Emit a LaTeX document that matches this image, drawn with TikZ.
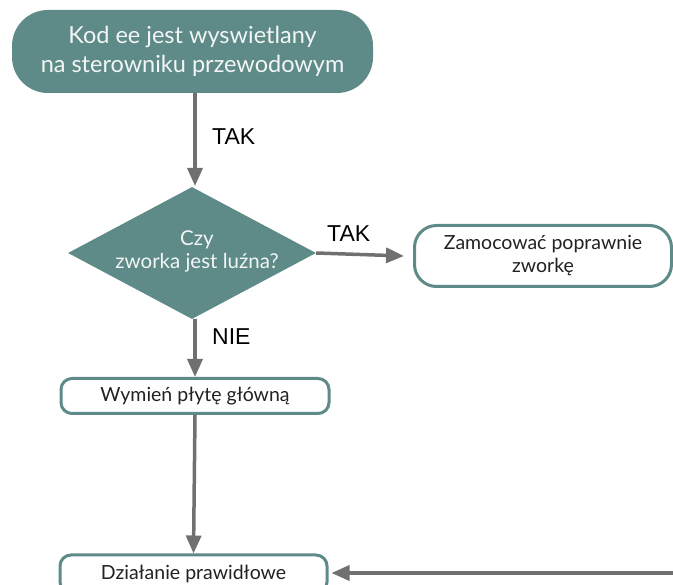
\documentclass[tikz,border=0pt]{standalone}
\usepackage{fontspec}
\setmainfont{Lato}
\newfontfamily\labelfont{Liberation Sans}
\usetikzlibrary{arrows.meta,shapes.geometric}
\definecolor{teal}{HTML}{5E8A87}
\definecolor{arrowgray}{HTML}{707070}
\definecolor{txt}{HTML}{222222}
\tikzset{
  boxnode/.style={draw=teal, line width=3pt, fill=white, text=txt, align=center, inner sep=0pt, font=\fontsize{19.5}{23}\selectfont},
  flowarrow/.style={draw=arrowgray, line width=3.5pt, -{Triangle[length=18pt,width=15pt]}},
  lbl/.style={font=\labelfont\fontsize{23}{26}\selectfont, text=black, inner sep=0pt}
}
\begin{document}
\begin{tikzpicture}[x=1pt,y=-1pt]
\useasboundingbox (0,0) rectangle (673,585);
\clip (0,0) rectangle (673,585);
\node[fill=teal, rounded corners=36pt, minimum width=361pt, minimum height=83pt, inner sep=0pt, text=white!92!teal, align=center, font=\fontsize{23.5}{29}\selectfont] (start) at (192.5,51.5) {Kod ee jest wyswietlany\\na sterowniku przewodowym};
\node[diamond, fill=teal, minimum width=248pt, minimum height=132pt, inner sep=0pt] (q) at (192,253) {};
\node[text=white!92!teal, align=center, font=\fontsize{20.5}{23}\selectfont, inner sep=0pt] (qtext) at (197,251) {Czy\\zworka jest luźna?};
\node[boxnode, rounded corners=22pt, minimum width=257pt, minimum height=61pt] (fix) at (543,256) {Zamocować poprawnie\\zworkę};
\node[boxnode, rounded corners=11pt, minimum width=268pt, minimum height=35pt] (swap) at (195,396) {Wymień płytę główną};
\node[boxnode, rounded corners=11pt, minimum width=267pt, minimum height=38pt] (ok) at (193.5,574) {Działanie prawidłowe};
\coordinate (rightend) at (675,573);
\draw[flowarrow] (195,93) -- (195,186);
\draw[flowarrow] (q.east) -- ([xshift=-9pt]fix.west);
\draw[flowarrow] (195,319) -- (swap.north);
\draw[flowarrow] (swap.south) -- (ok.north);
\draw[flowarrow] (rightend) -- ([xshift=3pt]ok.east |- rightend);
\node[lbl, anchor=west] (l1) at (212,137) {TAK};
\node[lbl, anchor=south west] (l2) at (327,242) {TAK};
\node[lbl, anchor=west] (l3) at (212,337) {NIE};
\end{tikzpicture}
\end{document}
